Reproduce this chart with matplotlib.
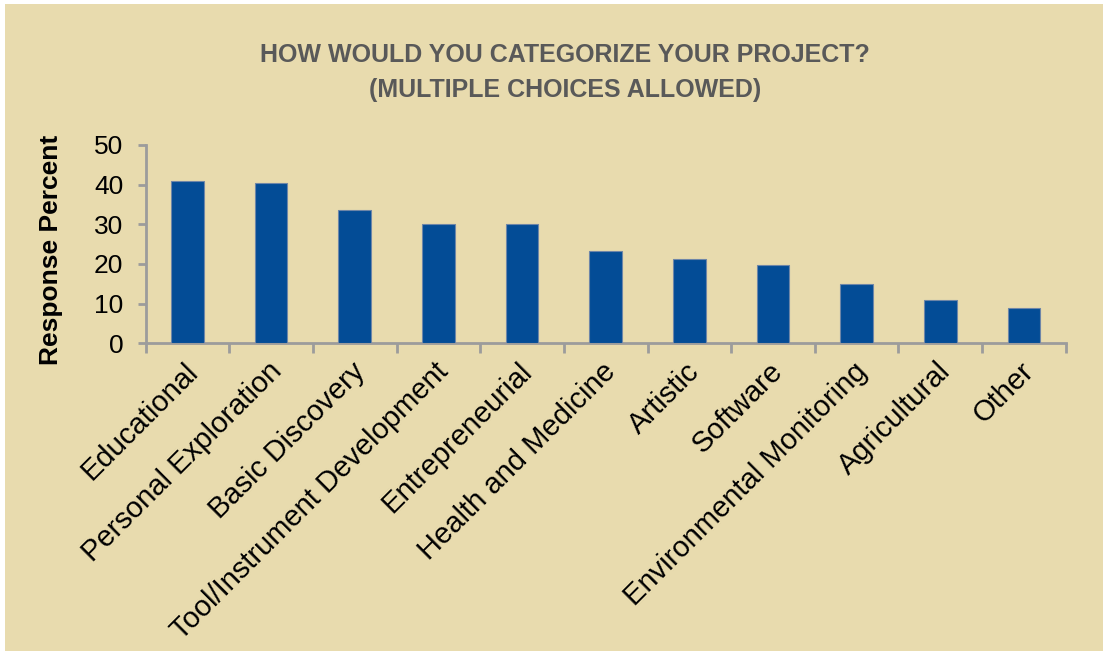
import matplotlib.pyplot as plt
from matplotlib.patches import Rectangle
from matplotlib.transforms import ScaledTranslation
import numpy as np

categories = ['Educational', 'Personal Exploration', 'Basic Discovery',
              'Tool/Instrument Development', 'Entrepreneurial', 'Health and Medicine',
              'Artistic', 'Software', 'Environmental Monitoring', 'Agricultural', 'Other']
percent = [41.0, 40.3, 33.5, 30.0, 30.0, 23.2, 21.2, 19.7, 15.0, 10.8, 8.8]
yticks = [0, 10, 20, 30, 40, 50]

bg = '#E8DBAE'
axis_gray = '#9C9C9C'

plt.rcParams['font.family'] = ['Liberation Sans', 'DejaVu Sans']

fig = plt.figure(figsize=(11.08, 6.55), dpi=100, facecolor='white')
fig.patches.append(Rectangle((5 / 1108, 4 / 655), 1098 / 1108, 647 / 655,
                             transform=fig.transFigure, facecolor=bg, edgecolor='none', zorder=-1))

ax = fig.add_axes([145.7 / 1108, 1 - 343.3 / 655, 920 / 1108, 198.3 / 655])
ax.set_facecolor('none')
x = np.arange(len(categories))
ax.bar(x, percent, width=0.39, color='#034C96', edgecolor='#6E86A8', linewidth=0.8, zorder=3)

ax.set_xlim(-0.5, len(categories) - 0.5)
ax.set_ylim(0, 50)
ax.set_yticks(yticks)
ax.tick_params(axis='y', labelsize=19, length=6, width=2, color=axis_gray, pad=10)

# category labels at the centres, boundary ticks between them
ax.set_xticks(x)
ax.set_xticklabels(categories, rotation=45, ha='right', va='top',
                   rotation_mode='anchor', fontsize=21)
ax.tick_params(axis='x', which='major', length=0, pad=10)
shift = ScaledTranslation(-4 / 100, 0, fig.dpi_scale_trans)
for lbl in ax.get_xticklabels():
    lbl.set_transform(lbl.get_transform() + shift)
ax.set_xticks(np.arange(len(categories) + 1) - 0.5, minor=True)
ax.tick_params(axis='x', which='minor', length=7, width=2, color=axis_gray, direction='out')

for s in ['top', 'right']:
    ax.spines[s].set_visible(False)
for s in ['left', 'bottom']:
    ax.spines[s].set_color(axis_gray)
    ax.spines[s].set_linewidth(2)

ax.set_ylabel('Response Percent', fontsize=19, fontweight='bold')
ax.yaxis.set_label_coords(-0.090, 0.47)

fig.text(565 / 1108, 1 - 55 / 655, 'HOW WOULD YOU CATEGORIZE YOUR PROJECT?',
         ha='center', va='center', fontsize=18, fontweight='bold', color='#595959')
fig.text(565 / 1108, 1 - 90 / 655, '(MULTIPLE CHOICES ALLOWED)',
         ha='center', va='center', fontsize=18, fontweight='bold', color='#595959')

fig.savefig('out.png', dpi=100, facecolor='white')
